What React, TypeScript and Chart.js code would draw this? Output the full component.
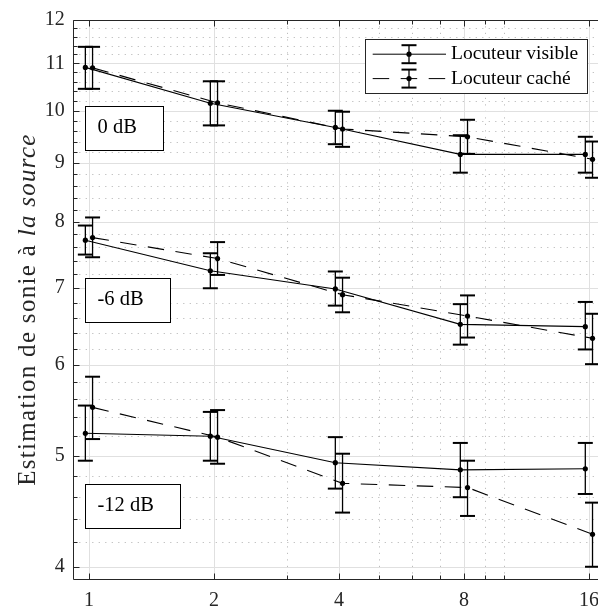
import React, { useEffect, useRef } from "react";
import { Chart, registerables } from "chart.js";

Chart.register(...registerables);

// ---------- data ----------
const levels = [1, 2, 4, 8, 16];
const xTicks = [1, 2, 4, 8, 16];
const xMinorTicks = [3, 5, 6, 7, 9, 10];
const yTicks = [4, 5, 6, 7, 8, 9, 10, 11, 12];
const yMinorStep = 0.2;
const seriesNames = ["Locuteur visible", "Locuteur caché"];
const groupLabels = ["0 dB", "-6 dB", "-12 dB"];
const groupLabelY = [9.66, 6.84, 4.52];
const seriesXShift = [0.98, 1.02];

// 0 dB
const visible0 = [10.91, 10.15, 9.67, 9.16, 9.16];
const visible0Lo = [10.45, 9.71, 9.35, 8.83, 8.83];
const visible0Hi = [11.37, 10.61, 10.0, 9.52, 9.49];
const hidden0 = [10.9, 10.16, 9.64, 9.49, 9.07];
const hidden0Lo = [10.45, 9.71, 9.3, 9.17, 8.74];
const hidden0Hi = [11.37, 10.61, 9.98, 9.82, 9.4];

// -6 dB
const visible6 = [7.71, 7.25, 6.99, 6.51, 6.48];
const visible6Lo = [7.49, 7.0, 6.76, 6.25, 6.19];
const visible6Hi = [7.94, 7.51, 7.24, 6.78, 6.81];
const hidden6 = [7.75, 7.43, 6.91, 6.62, 6.33];
const hidden6Lo = [7.45, 7.19, 6.67, 6.34, 6.01];
const hidden6Hi = [8.07, 7.68, 7.15, 6.9, 6.65];

// -12 dB
const visible12 = [5.23, 5.2, 4.93, 4.86, 4.87];
const visible12Lo = [4.95, 4.95, 4.68, 4.6, 4.63];
const visible12Hi = [5.53, 5.46, 5.19, 5.13, 5.13];
const hidden12 = [5.51, 5.19, 4.73, 4.69, 4.27];
const hidden12Lo = [5.17, 4.92, 4.46, 4.43, 4.0];
const hidden12Hi = [5.86, 5.48, 5.02, 4.95, 4.55];

// ---------- styles ----------
const FONT = "'Liberation Serif', 'Times New Roman', serif";
const INK = "#262626";
const DASH = [16.5, 11.5];
const CAP = 7.5;

const groups = [
  [[visible0, visible0Lo, visible0Hi], [hidden0, hidden0Lo, hidden0Hi]],
  [[visible6, visible6Lo, visible6Hi], [hidden6, hidden6Lo, hidden6Hi]],
  [[visible12, visible12Lo, visible12Hi], [hidden12, hidden12Lo, hidden12Hi]],
];

function buildDatasets() {
  const out: any[] = [];
  groups.forEach((g, gi) => {
    g.forEach(([vals, lo, hi], si) => {
      out.push({
        label: seriesNames[si] + " " + groupLabels[gi],
        data: levels.map((lv, j) => ({ x: lv * seriesXShift[si], y: vals[j] })),
        errLo: lo,
        errHi: hi,
        borderColor: "#000",
        borderWidth: 1.1,
        borderDash: si === 1 ? DASH : [],
        pointRadius: 2.6,
        pointBorderWidth: 0,
        pointBackgroundColor: "#000",
        fill: false,
        tension: 0,
      });
    });
  });
  return out;
}

function line(ctx: CanvasRenderingContext2D, x1: number, y1: number, x2: number, y2: number) {
  ctx.beginPath();
  ctx.moveTo(x1, y1);
  ctx.lineTo(x2, y2);
  ctx.stroke();
}

function yMinorValues(): number[] {
  const vals: number[] = [];
  for (let i = yTicks[0]; i < yTicks[yTicks.length - 1]; i++) {
    for (let k = 1; k * yMinorStep < 1 - 1e-9; k++) vals.push(i + k * yMinorStep);
  }
  return vals;
}

function drawErrorBar(ctx: CanvasRenderingContext2D, px: number, yHi: number, yLo: number) {
  ctx.setLineDash([]);
  ctx.lineWidth = 1.3;
  line(ctx, px, yHi, px, yLo);
  ctx.lineWidth = 2;
  line(ctx, px - CAP, yHi, px + CAP, yHi);
  line(ctx, px - CAP, yLo, px + CAP, yLo);
}

const decorPlugin = {
  id: "decor",
  beforeDatasetsDraw(chart: any) {
    const { ctx, chartArea: a, scales } = chart;
    const x = scales.x, y = scales.y;
    ctx.save();
    ctx.beginPath();
    ctx.rect(a.left, a.top, a.right - a.left, a.bottom - a.top);
    ctx.clip();
    // minor dotted grid
    ctx.strokeStyle = "#bdbdbd";
    ctx.lineWidth = 1;
    ctx.setLineDash([1.2, 5.3]);
    for (const v of xMinorTicks) {
      const px = Math.round(x.getPixelForValue(v)) + 0.5;
      line(ctx, px, a.bottom, px, a.top);
    }
    for (const v of yMinorValues()) {
      const py = Math.round(y.getPixelForValue(v)) + 0.5;
      line(ctx, a.left, py, a.right, py);
    }
    // major grid
    ctx.setLineDash([]);
    ctx.strokeStyle = "#e0e0e0";
    for (const v of xTicks) {
      const px = Math.round(x.getPixelForValue(v)) + 0.5;
      line(ctx, px, a.top, px, a.bottom);
    }
    for (const v of yTicks) {
      const py = Math.round(y.getPixelForValue(v)) + 0.5;
      line(ctx, a.left, py, a.right, py);
    }
    ctx.restore();
  },
  afterDatasetsDraw(chart: any) {
    const { ctx, scales } = chart;
    const x = scales.x, y = scales.y;
    ctx.save();
    ctx.strokeStyle = "#000";
    chart.data.datasets.forEach((ds: any) => {
      ds.data.forEach((pt: any, j: number) => {
        const px = x.getPixelForValue(pt.x);
        drawErrorBar(ctx, px, y.getPixelForValue(ds.errHi[j]), y.getPixelForValue(ds.errLo[j]));
      });
    });
    ctx.restore();
  },
  afterDraw(chart: any) {
    const { ctx, chartArea: a, scales } = chart;
    const x = scales.x, y = scales.y;
    ctx.save();
    // axes box
    ctx.strokeStyle = INK;
    ctx.lineWidth = 1;
    ctx.setLineDash([]);
    const L = Math.round(a.left) + 0.5;
    const B = Math.round(a.bottom) - 0.5;
    const T = Math.round(a.top) + 0.5;
    const R = Math.round(a.right) - 0.5;
    ctx.beginPath();
    ctx.moveTo(L, T);
    ctx.lineTo(L, B);
    ctx.lineTo(R, B);
    ctx.lineTo(R, T);
    ctx.closePath();
    ctx.stroke();
    // inward ticks
    const MAJ = 6, MIN = 4;
    for (const v of xTicks) {
      const px = Math.round(x.getPixelForValue(v)) + 0.5;
      line(ctx, px, B, px, B - MAJ);
      line(ctx, px, T, px, T + MAJ);
    }
    for (const v of xMinorTicks) {
      const px = Math.round(x.getPixelForValue(v)) + 0.5;
      line(ctx, px, B, px, B - MIN);
      line(ctx, px, T, px, T + MIN);
    }
    for (const v of yTicks) {
      const py = Math.round(y.getPixelForValue(v)) + 0.5;
      line(ctx, L, py, L + MAJ, py);
      line(ctx, R, py, R - MAJ, py);
    }
    for (const v of yMinorValues()) {
      const py = Math.round(y.getPixelForValue(v)) + 0.5;
      line(ctx, L, py, L + MIN, py);
      line(ctx, R, py, R - MIN, py);
    }

    // group annotation boxes
    ctx.font = `20.5px ${FONT}`;
    ctx.textBaseline = "middle";
    ctx.textAlign = "left";
    groupLabels.forEach((lab, i) => {
      const cy = y.getPixelForValue(groupLabelY[i]);
      const left = Math.round(x.getPixelForValue(seriesXShift[0])) + 0.5;
      const w = ctx.measureText(lab).width;
      const bw = Math.round(12 + w + 27);
      const bh = 44;
      const top = Math.round(cy - bh / 2) + 0.5;
      ctx.fillStyle = "#fff";
      ctx.fillRect(left, top, bw, bh);
      ctx.strokeStyle = "#000";
      ctx.lineWidth = 1;
      ctx.strokeRect(left, top, bw, bh);
      ctx.fillStyle = "#000";
      ctx.fillText(lab, left + 12, cy - 0.5);
    });

    // legend
    const lg = { left: 365.5, top: 39.5, width: 222, height: 54 };
    ctx.fillStyle = "#fff";
    ctx.fillRect(lg.left, lg.top, lg.width, lg.height);
    ctx.strokeStyle = INK;
    ctx.lineWidth = 1;
    ctx.strokeRect(lg.left, lg.top, lg.width, lg.height);
    const rows = [54.2, 78.6];
    seriesNames.forEach((name, si) => {
      const cy = rows[si];
      ctx.strokeStyle = "#000";
      ctx.lineWidth = 1;
      ctx.setLineDash(si === 1 ? DASH : []);
      line(ctx, 372.7, cy, 446, cy);
      ctx.setLineDash([]);
      drawErrorBar(ctx, 409, cy - 9, cy + 9);
      ctx.fillStyle = "#000";
      ctx.beginPath();
      ctx.arc(409, cy, 2.6, 0, Math.PI * 2);
      ctx.fill();
      ctx.font = `19.5px ${FONT}`;
      ctx.textBaseline = "middle";
      ctx.fillStyle = "#000";
      ctx.fillText(name, 451, cy);
    });

    // y-axis title
    ctx.translate(35, 309.5);
    ctx.rotate(-Math.PI / 2);
    ctx.fillStyle = INK;
    ctx.textBaseline = "alphabetic";
    (ctx as any).letterSpacing = "1.3px";
    const p1 = "Estimation de sonie à ";
    const p2 = "la source";
    ctx.font = `25px ${FONT}`;
    const w1 = ctx.measureText(p1).width;
    ctx.font = `italic 25px ${FONT}`;
    const w2 = ctx.measureText(p2).width;
    const start = -(w1 + w2) / 2;
    ctx.font = `25px ${FONT}`;
    ctx.fillText(p1, start, 0);
    ctx.font = `italic 25px ${FONT}`;
    ctx.fillText(p2, start + w1, 0);
    ctx.restore();
  },
};

export default function App() {
  const ref = useRef<HTMLCanvasElement | null>(null);
  useEffect(() => {
    if (!ref.current) return;
    const chart = new Chart(ref.current, {
      type: "line",
      data: { datasets: buildDatasets() },
      options: {
        responsive: false,
        animation: false,
        events: [],
        layout: { padding: { top: 19, right: 35, bottom: 0, left: 0 } },
        plugins: { legend: { display: false }, tooltip: { enabled: false } },
        scales: {
          x: {
            type: "logarithmic",
            min: 0.9136,
            max: 17.49,
            grid: { display: false, drawTicks: false },
            border: { display: false },
            ticks: {
              font: { family: FONT, size: 20 },
              color: INK,
              padding: 9,
              autoSkip: false,
              maxRotation: 0,
              callback: (v: any) => String(v),
            },
            afterBuildTicks: (s: any) => {
              s.ticks = xTicks.map((v) => ({ value: v }));
            },
            afterFit: (s: any) => {
              s.height = 30;
            },
          },
          y: {
            type: "logarithmic",
            min: 3.895,
            max: 12,
            grid: { display: false, drawTicks: false },
            border: { display: false },
            ticks: {
              font: { family: FONT, size: 20 },
              color: INK,
              padding: 8,
              autoSkip: false,
              callback: (v: any) => String(v),
            },
            afterBuildTicks: (s: any) => {
              s.ticks = yTicks.map((v) => ({ value: v }));
            },
            afterFit: (s: any) => {
              s.width = 72.7;
            },
          },
        },
      } as any,
      plugins: [decorPlugin as any],
    });
    return () => chart.destroy();
  }, []);
  return (
    <div
      style={{
        position: "absolute",
        left: 0,
        top: 0,
        width: 598,
        height: 610,
        overflow: "hidden",
        background: "#fff",
      }}
    >
      <canvas ref={ref} width={640} height={610} style={{ display: "block" }} />
    </div>
  );
}
